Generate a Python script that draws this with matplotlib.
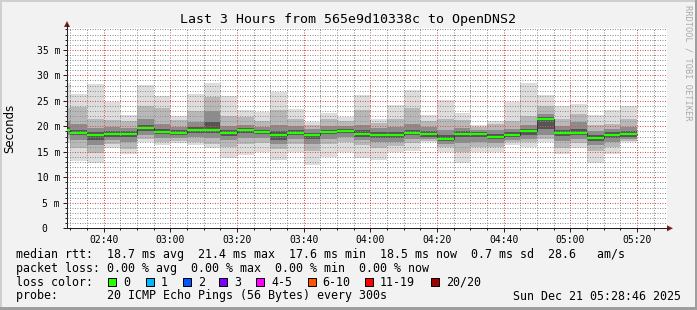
import numpy as np
import matplotlib.pyplot as plt
from matplotlib.patches import Rectangle, Polygon
from matplotlib.ticker import MultipleLocator

# smokeping data: one bin every 5 minutes, first bin starts at 02:25
first_bin = "02:25"
step_min = 5

# median rtt per bin (ms)
median = [19.3, 18.75, 18.2, 18.5, 18.5, 19.7, 18.9, 18.7, 19.3, 19.3,
          18.75, 19.3, 18.9, 18.2, 18.75, 18.2, 18.9, 19.1, 18.5, 18.35,
          18.35, 18.75, 18.5, 17.6, 18.5, 18.5, 18.0, 18.35, 19.1, 21.4,
          18.75, 18.75, 17.7, 18.35, 18.5]
# outer smoke (fastest / slowest ping)
ping_min = [16.7, 13.2, 12.9, 15.8, 14.5, 17.0, 16.4, 16.7, 16.3, 15.8,
            13.8, 14.4, 15.0, 13.4, 14.9, 12.5, 14.0, 15.0, 13.7, 13.4,
            15.0, 15.2, 17.0, 15.0, 12.9, 15.0, 14.9, 16.3, 16.0, 17.0,
            14.5, 15.8, 12.9, 14.5, 16.9]
ping_max = [28.4, 26.3, 28.3, 24.8, 22.2, 28.1, 25.9, 22.0, 26.3, 28.5,
            26.0, 23.2, 22.9, 26.8, 23.4, 20.9, 22.7, 21.9, 26.1, 21.4,
            24.2, 27.1, 22.3, 25.2, 22.7, 20.3, 21.0, 24.8, 28.4, 26.1,
            24.0, 24.4, 22.2, 23.1, 24.0]
# 3rd / 18th ping
p3_lo = [17.5, 15.8, 14.8, 16.5, 15.5, 17.6, 17.0, 17.2, 17.0, 16.6,
         16.0, 16.5, 16.8, 15.5, 16.5, 15.2, 16.5, 17.0, 16.3, 15.8,
         16.2, 16.8, 17.2, 16.0, 15.0, 16.0, 16.0, 16.9, 16.9, 17.6,
         15.8, 16.8, 15.2, 16.0, 17.2]
p3_hi = [23.5, 23.8, 21.5, 21.3, 21.0, 24.0, 23.5, 21.2, 23.0, 25.8,
         22.0, 21.8, 21.0, 23.2, 21.5, 20.3, 21.5, 21.0, 23.2, 20.6,
         21.5, 23.6, 21.0, 21.5, 21.2, 19.8, 20.4, 21.0, 22.0, 24.0,
         21.5, 22.5, 20.3, 20.5, 21.5]
# 6th / 15th ping
p6_lo = [18.3, 17.3, 16.3, 17.3, 17.0, 18.3, 17.8, 17.7, 17.9, 17.8,
         17.4, 17.8, 17.7, 16.6, 17.5, 16.5, 17.6, 17.9, 17.3, 17.0,
         17.0, 17.6, 17.6, 16.6, 16.8, 17.0, 16.8, 17.3, 17.6, 18.3,
         17.2, 17.6, 16.3, 17.0, 17.5]
p6_hi = [21.0, 20.5, 19.6, 19.9, 19.7, 21.5, 20.5, 19.8, 20.8, 23.0,
         20.0, 20.3, 19.8, 20.3, 20.0, 19.4, 20.0, 20.0, 20.3, 19.6,
         19.8, 20.5, 19.8, 19.3, 19.7, 19.3, 19.3, 19.5, 20.3, 22.5,
         20.0, 20.8, 19.0, 19.5, 19.8]
# 9th / 12th ping
p9_lo = [18.8, 18.2, 17.4, 18.0, 18.0, 19.0, 18.4, 18.2, 18.6, 18.7,
         18.1, 18.6, 18.4, 17.4, 18.2, 17.5, 18.4, 18.6, 18.0, 17.8,
         17.8, 18.3, 18.0, 17.2, 17.9, 18.0, 17.5, 17.9, 18.3, 19.5,
         18.1, 18.2, 17.2, 17.8, 18.0]
p9_hi = [19.8, 19.3, 18.9, 19.0, 19.0, 20.3, 19.5, 19.2, 19.8, 20.8,
         19.3, 19.7, 19.3, 19.0, 19.3, 18.7, 19.3, 19.5, 19.2, 18.9,
         18.9, 19.3, 19.0, 18.3, 19.0, 18.9, 18.5, 18.9, 19.5, 21.9,
         19.2, 19.4, 18.3, 18.9, 19.0]

x_ticks = ["02:40", "03:00", "03:20", "03:40", "04:00", "04:20", "04:40", "05:00", "05:20"]
y_ticks = [0, 5, 10, 15, 20, 25, 30, 35]
y_tick_labels = ["0  ", "5 m", "10 m", "15 m", "20 m", "25 m", "30 m", "35 m"]

loss_labels = ["0", "1", "2", "3", "4-5", "6-10", "11-19", "20/20"]
loss_colors = ["#26ff00", "#00b8ff", "#0059ff", "#7e00ff", "#ff00ff", "#ff5500", "#ff0000", "#a10000"]

title = "Last 3 Hours from 565e9d10338c to OpenDNS2"
stat_lines = [
    "median rtt:  18.7 ms avg  21.4 ms max  17.6 ms min  18.5 ms now  0.7 ms sd  28.6   am/s",
    "packet loss: 0.00 % avg  0.00 % max  0.00 % min  0.00 % now",
    "loss color:",
    "probe:       20 ICMP Echo Pings (56 Bytes) every 300s",
]
stamp = "Sun Dec 21 05:28:46 2025"


def to_min(s):
    h, m = s.split(":")
    return int(h) * 60 + int(m)


W, H = 697, 310
MONO = "DejaVu Sans Mono"
fig = plt.figure(figsize=(W / 100, H / 100), dpi=100, facecolor="#f2f2f2")

# plot area in pixels
L, R, B, T = 67, 667, 228.3, 28
ax = fig.add_axes([L / W, 1 - B / H, (R - L) / W, (B - T) / H])
ax.set_facecolor("white")

starts = to_min(first_bin) + step_min * np.arange(len(median))
layers = [
    (ping_min, ping_max, "#dddddd"),
    (p3_lo, p3_hi, "#b8b8b8"),
    (p6_lo, p6_hi, "#8c8c8c"),
    (p9_lo, p9_hi, "#555555"),
]
for lo, hi, col in layers:
    lo = np.array(lo)
    hi = np.array(hi)
    ax.bar(starts, hi - lo, bottom=lo, width=step_min, align="edge",
           color=col, linewidth=0, zorder=1)

edges = np.append(starts, starts[-1] + step_min)
ax.step(edges, median + [median[-1]], where="post", color="#303030", lw=0.6, zorder=3)
ax.hlines(median, starts, starts + step_min, color=loss_colors[0], lw=1.6, zorder=4)

t0 = to_min("02:29")
ax.set_xlim(t0, t0 + 180)
ax.set_ylim(0, (B - T) / 5.1)

ax.set_xticks([to_min(t) for t in x_ticks])
ax.set_xticklabels(x_ticks)
ax.xaxis.set_minor_locator(MultipleLocator(5))
ax.set_yticks(y_ticks)
ax.set_yticklabels(y_tick_labels)
ax.yaxis.set_minor_locator(MultipleLocator(1))

ax.set_axisbelow(False)
ax.grid(which="major", color=(0.87, 0.31, 0.31, 0.4), ls=(0, (1, 1.5)), lw=0.72)
ax.grid(which="minor", color=(0.56, 0.56, 0.56, 0.35), ls=(0, (1, 1.5)), lw=0.72)

ax.tick_params(which="major", length=3, width=0.72, color="#1f1f1f", pad=2,
               labelsize=7, labelfontfamily=MONO)
ax.tick_params(which="minor", length=1.5, width=0.72, color="#1f1f1f")
for side in ["top", "right"]:
    ax.spines[side].set_visible(False)
for side in ["left", "bottom"]:
    ax.spines[side].set_color("#1f1f1f")
    ax.spines[side].set_linewidth(0.72)

# overlay in pixel coordinates for frame, arrows and legend
ov = fig.add_axes([0, 0, 1, 1], facecolor="none")
ov.set_xlim(0, W)
ov.set_ylim(H, 0)
ov.axis("off")

ov.add_patch(Rectangle((0, 0), W, 2, color="#cfcfcf", lw=0))
ov.add_patch(Rectangle((0, 0), 2, H, color="#cfcfcf", lw=0))
ov.add_patch(Rectangle((0, H - 3), W, 3, color="#9e9e9e", lw=0))
ov.add_patch(Rectangle((W - 2, 0), 2, H, color="#9e9e9e", lw=0))

arrow = "#7f1f1f"
ov.plot([L, L], [T, 24], color="#1f1f1f", lw=0.72)
ov.plot([R, 668], [B, B], color="#1f1f1f", lw=0.72)
ov.add_patch(Polygon([[L - 3, 27], [L + 3, 27], [L, 21]], closed=True, color=arrow, lw=0))
ov.add_patch(Polygon([[667, B - 3], [667, B + 3], [673, B]], closed=True, color=arrow, lw=0))

ov.text(347.5, 19.5, title, family=MONO, fontsize=9.5, ha="center", va="center")
ov.text(10, 128, "Seconds", fontsize=8.5, rotation=90, ha="center", va="center")
ov.text(688, 5, "RRDTOOL / TOBI OETIKER", family=MONO, fontsize=6.2, rotation=270,
        ha="center", va="top", color="#aaaaaa")

line_y = [254.3, 268.3, 282.3, 296]
for s, y in zip(stat_lines, line_y):
    ov.text(16, y, s, family=MONO, fontsize=8.4, ha="left", va="center")
ov.text(681, line_y[3], stamp, family=MONO, fontsize=8.4, ha="right", va="center")

box_x = [108.3, 145.7, 182.7, 219.3, 256, 307.7, 365, 430.7]
for bx, lab, col in zip(box_x, loss_labels, loss_colors):
    ov.add_patch(Rectangle((bx, 277.7), 8, 8, facecolor=col, edgecolor="black", lw=0.72))
    ov.text(bx + 15, line_y[2], lab, family=MONO, fontsize=8.4, ha="left", va="center")

fig.savefig("out.png", dpi=100, facecolor=fig.get_facecolor())
